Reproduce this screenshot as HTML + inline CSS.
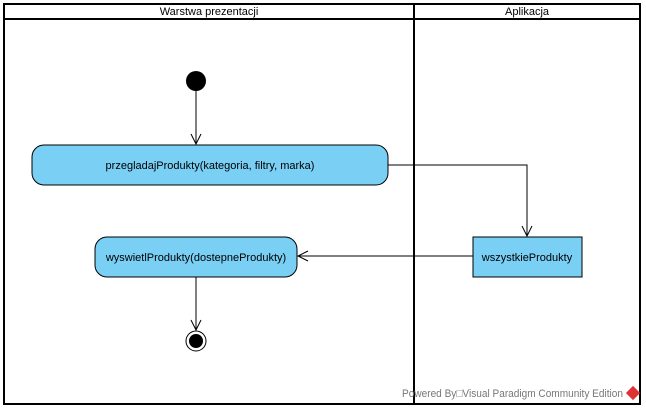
<!DOCTYPE html>
<html><head><style>body{margin:0;background:#fff}</style></head><body>
<svg width="646" height="410" xmlns="http://www.w3.org/2000/svg" style="display:block;font-family:'Liberation Sans',sans-serif">
<rect x="0" y="0" width="646" height="410" fill="#fff"/>
<rect x="4" y="4" width="636" height="400" fill="none" stroke="#000" stroke-width="2"/>
<line x1="4" y1="19" x2="640" y2="19" stroke="#000" stroke-width="2"/>
<line x1="414" y1="4" x2="414" y2="404" stroke="#000" stroke-width="2"/>
<text x="209" y="15" font-size="11" text-anchor="middle">Warstwa prezentacji</text>
<text x="527" y="15" font-size="11" text-anchor="middle">Aplikacja</text>
<circle cx="196" cy="81" r="10" fill="#000"/>
<line x1="196" y1="91" x2="196" y2="144" stroke="#000"/>
<polyline points="191,134 196,144 201,134" fill="none" stroke="#000"/>
<rect x="32" y="145" width="356" height="40" rx="12" fill="#7acff5" stroke="#000"/>
<text x="210" y="169" font-size="11" text-anchor="middle">przegladajProdukty(kategoria, filtry, marka)</text>
<polyline points="388,165 527,165 527,236" fill="none" stroke="#000"/>
<polyline points="522,226 527,236 532,226" fill="none" stroke="#000"/>
<rect x="473" y="237" width="109" height="40" fill="#7acff5" stroke="#000"/>
<text x="527" y="261" font-size="11" text-anchor="middle">wszystkieProdukty</text>
<line x1="473" y1="256" x2="298" y2="256" stroke="#000"/>
<polyline points="308,251 298,256 308,261" fill="none" stroke="#000"/>
<rect x="95" y="237" width="202" height="40" rx="12" fill="#7acff5" stroke="#000"/>
<text x="196" y="261" font-size="11" text-anchor="middle">wyswietlProdukty(dostepneProdukty)</text>
<line x1="196" y1="277" x2="196" y2="330" stroke="#000"/>
<polyline points="191,320 196,330 201,320" fill="none" stroke="#000"/>
<circle cx="196" cy="341" r="10" fill="#fff" stroke="#000"/>
<circle cx="196" cy="341" r="7" fill="#000"/>
<text x="402" y="397" font-size="11" fill="#777" textLength="221" lengthAdjust="spacingAndGlyphs">Powered By□Visual Paradigm Community Edition</text>
<g transform="translate(633,393) rotate(45)"><rect x="-5" y="-5" width="10" height="10" fill="#d33"/></g>
</svg>
</body></html>
